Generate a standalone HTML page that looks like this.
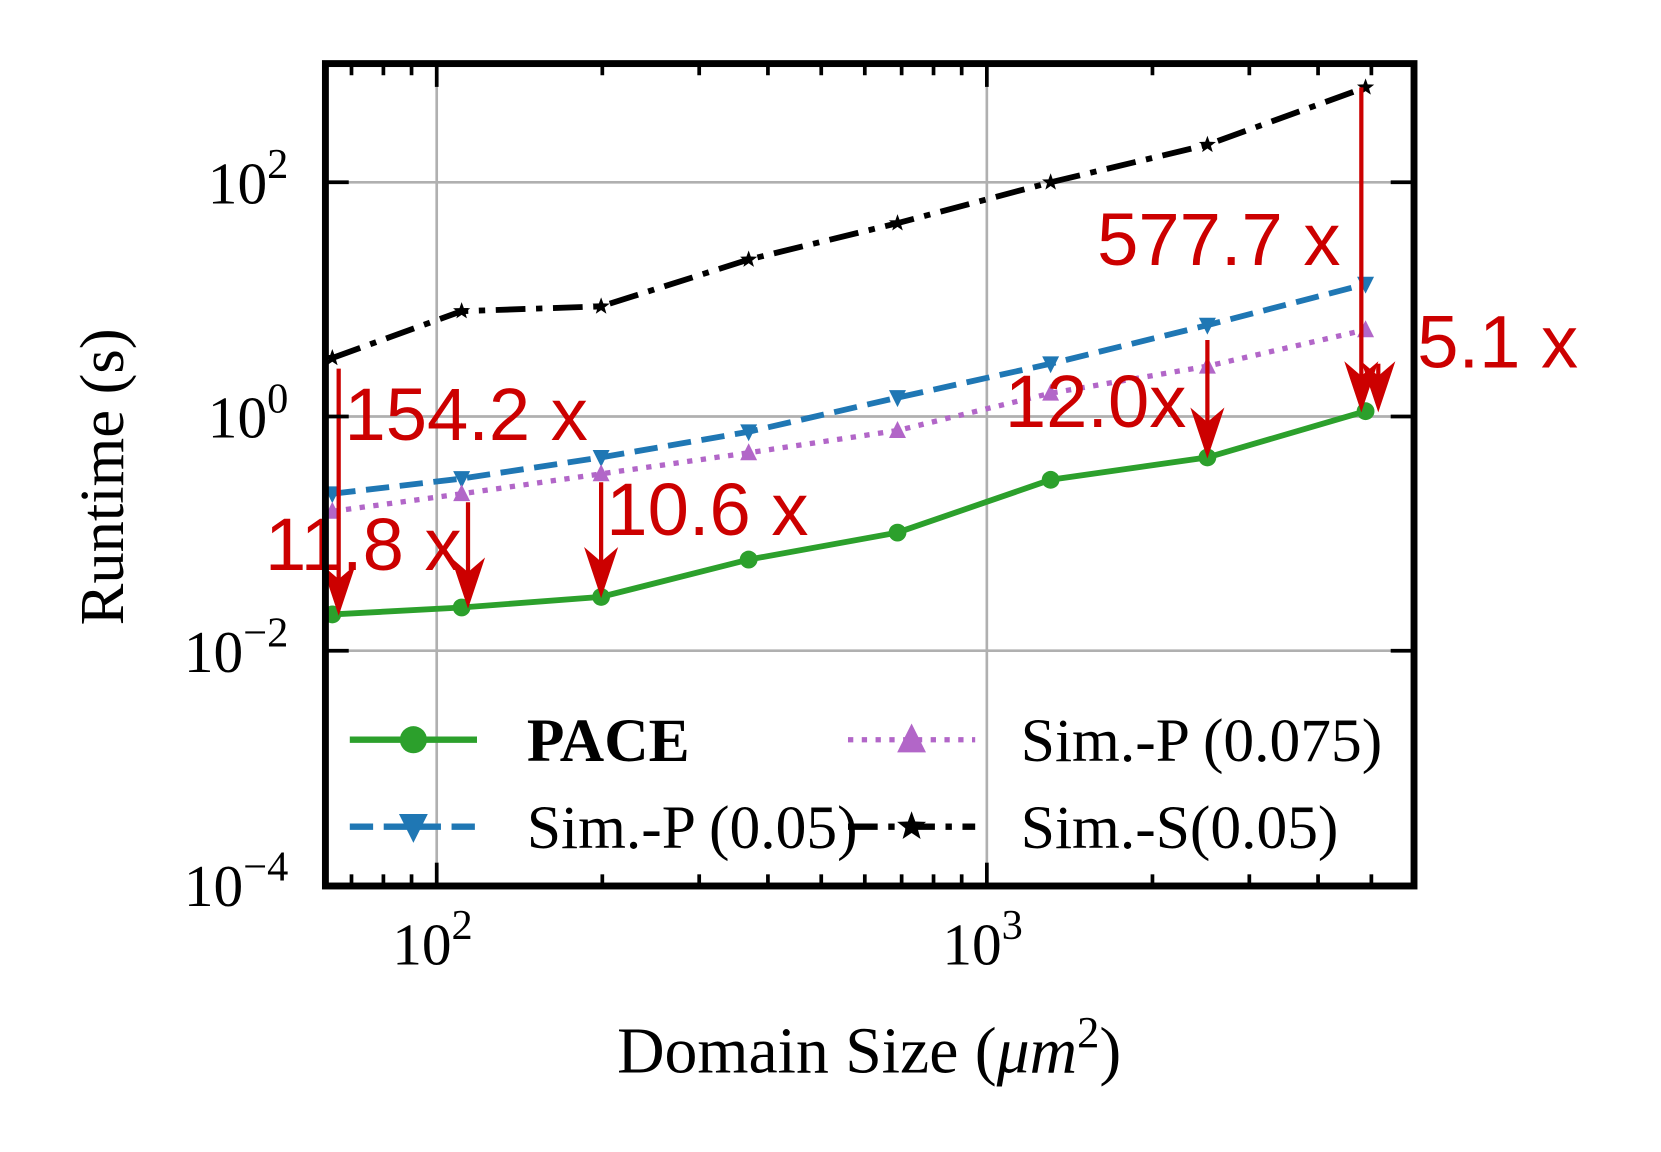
<!DOCTYPE html>
<html><head><meta charset="utf-8"><style>
html,body{margin:0;padding:0;background:#fff;}
svg{display:block;}
.serif{font-family:"Liberation Serif","DejaVu Serif",serif;}
.ann{font-family:"Liberation Sans","DejaVu Sans",sans-serif;fill:#cc0000;font-size:70px;}
</style></head><body>
<svg id="chart" width="1661" height="1152" viewBox="0 0 1567 1087" preserveAspectRatio="none" xmlns="http://www.w3.org/2000/svg">
<g id="grid"></g>
<g id="series"></g>
<g id="annot"></g>
<g id="axes"></g>
<g id="legend"></g>
<text class="serif" transform="translate(116,450) rotate(-90)" text-anchor="middle" font-size="59">Runtime (s)</text>
<text class="serif" x="820" y="1012" text-anchor="middle" font-size="62">Domain Size (<tspan font-style="italic">μm</tspan><tspan dy="-24" font-size="42">2</tspan><tspan dy="24">)</tspan></text>
</svg>
<script>
const domainSizes=[64.6,111,199,369,688,1306,2517,4880];
const pace=[0.0204,0.0234,0.0288,0.060,0.102,0.288,0.447,1.11];
const simP05=[0.219,0.295,0.447,0.741,1.45,2.82,6.03,13.5];
const simP075=[0.155,0.219,0.324,0.490,0.759,1.58,2.69,5.50];
const simS=[3.16,7.94,8.71,21.9,44.7,100,209,646];
const xTickVals=[100,1000];
const xTickLabels=['2','3'];
const yTickVals=[1e-4,1e-2,1,100];
const yTickLabels=['−4','−2','0','2'];
const arrows=[[0,'simS'],[1,'simP075'],[2,'simP075'],[6,'simP05'],[7,'simS'],[7,'simP075']];
const annLabels=['154.2 x','11.8 x','10.6 x','12.0x','577.7 x','5.1 x'];

const L=307,R=1334,T=60,B=836;
const xs=v=>412+(Math.log10(v)-2)*519;
const ys=v=>393-Math.log10(v)*110.5;
const NS='http://www.w3.org/2000/svg';
function mk(tag,attrs,parent){const e=document.createElementNS(NS,tag);for(const k in attrs)e.setAttribute(k,attrs[k]);parent.appendChild(e);return e;}
const grid=document.getElementById('grid'),axes=document.getElementById('axes'),ser=document.getElementById('series'),ann=document.getElementById('annot'),leg=document.getElementById('legend');

xTickVals.forEach(v=>{const l=mk('line',{x1:xs(v),x2:xs(v),y1:T,y2:B,stroke:'#b0b0b0','stroke-width':2.5},grid);

});
yTickVals.forEach(v=>{const l=mk('line',{x1:L,x2:R,y1:ys(v),y2:ys(v),stroke:'#b0b0b0','stroke-width':2.5},grid);

});

const data={pace,simP05,simP075,simS};
const styles={
 simS:{c:'#000',dash:'28,10,6,10',m:'star'},
 simP05:{c:'#1f77b4',dash:'22,10',m:'down'},
 simP075:{c:'#b266c8',dash:'5,8',m:'up'},
 pace:{c:'#2ca02c',dash:'',m:'circle'}};
function marker(type,x,y,c,parent,s){
 let e;
 if(type==='circle') e=mk('circle',{cx:x,cy:y,r:8*s,fill:c},parent);
 else if(type==='down') e=mk('polygon',{points:`${x-8*s},${y-7*s} ${x+8*s},${y-7*s} ${x},${y+9*s}`,fill:c},parent);
 else if(type==='up') e=mk('polygon',{points:`${x-8*s},${y+7*s} ${x+8*s},${y+7*s} ${x},${y-9*s}`,fill:c},parent);
 else {let p=[];for(let i=0;i<10;i++){const r=(i%2?3.5:8.5)*s,a=-Math.PI/2+i*Math.PI/5;p.push((x+r*Math.cos(a)).toFixed(1)+','+(y+r*Math.sin(a)).toFixed(1));}
  e=mk('polygon',{points:p.join(' '),fill:c},parent);}
 return e;}
['simS','simP05','simP075','pace'].forEach(k=>{
 const st=styles[k],vals=data[k];
 const pts=vals.map((v,i)=>xs(domainSizes[i]).toFixed(1)+','+ys(v).toFixed(1)).join(' ');
 const pl=mk('polyline',{points:pts,fill:'none',stroke:st.c,'stroke-width':k==='simP075'?5:5.5,'stroke-dasharray':st.dash},ser);
 
 
 vals.forEach((v,i)=>{const m=marker(st.m,xs(domainSizes[i]),ys(v),st.c,ser,k==='pace'?1.05:1.0);
  
  });
});

const annPos=[[325,415],[250,538],[572,505],[948,403],[1035,250],[1337,347]];
const arrowDx=[6,6,0,0,-4,12];
const arrowStartOff=[10,8,8,14,0,32];
arrows.forEach((a,j)=>{
 const [i,k]=a;const x=xs(domainSizes[i])+arrowDx[j];
 const y1=ys(data[k][i])+arrowStartOff[j],y2=ys(pace[i])-2;
 const g=mk('g',{},ann);
 
 
 mk('line',{x1:x,x2:x,y1:y1,y2:y2-30,stroke:'#cc0000','stroke-width':4},g);
 mk('polygon',{points:`${x-14},${y2-42} ${x},${y2-30} ${x+14},${y2-42} ${x},${y2}`,fill:'#cc0000',stroke:'#cc0000','stroke-width':2,'stroke-linejoin':'miter'},g);
 const t=mk('text',{x:annPos[j][0],y:annPos[j][1],class:'ann'},ann);
 t.textContent=annLabels[j];
 
 
});

const fr=mk('rect',{x:L,y:T,width:R-L,height:B-T,fill:'none',stroke:'#000','stroke-width':6.5},axes);


for(let d=1;d<=3;d++)for(let m=1;m<10;m++){const v=m*Math.pow(10,d);const x=xs(v);if(x<L+3||x>R-3)continue;
 const len=m===1?22:11;
 mk('line',{x1:x,x2:x,y1:B,y2:B-len,stroke:'#000','stroke-width':3.5},axes);
 mk('line',{x1:x,x2:x,y1:T,y2:T+len,stroke:'#000','stroke-width':3.5},axes);}
yTickVals.forEach(v=>{const y=ys(v);
 mk('line',{x1:L,x2:L+22,y1:y,y2:y,stroke:'#000','stroke-width':3.5},axes);
 mk('line',{x1:R,x2:R-22,y1:y,y2:y,stroke:'#000','stroke-width':3.5},axes);});
yTickVals.forEach((v,i)=>{const t=mk('text',{x:272,y:ys(v)+20,'text-anchor':'end','font-size':56,class:'serif'},axes);
 t.innerHTML='10<tspan dy="-24" font-size="40">'+yTickLabels[i]+'</tspan>';
 
 });
xTickVals.forEach((v,i)=>{const t=mk('text',{x:xs(v)-42,y:910,'font-size':56,class:'serif'},axes);
 t.innerHTML='10<tspan dy="-24" font-size="40">'+xTickLabels[i]+'</tspan>';
 
 });

const entries=[['pace','PACE',330,698,true],['simP075','Sim.-P (0.075)',800,698,false],['simP05','Sim.-P (0.05)',330,780,false],['simS','Sim.-S(0.05)',800,780,false]];
entries.forEach(e=>{const [k,lab,x,y,b]=e;const st=styles[k];
 const g=mk('g',{},leg);
 
 
 mk('line',{x1:x,x2:x+120,y1:y,y2:y,stroke:st.c,'stroke-width':k==='simP075'?5:6,'stroke-dasharray':st.dash},g);
 marker(st.m,x+60,y,st.c,g,k==='pace'?1.6:1.7);
 const t=mk('text',{x:x+(k==='pace'||k==='simP05'?167:163),y:y+20,'font-size':58,class:'serif','font-weight':b?'bold':'normal'},g);
 t.textContent=lab;});
</script>
</body></html>
